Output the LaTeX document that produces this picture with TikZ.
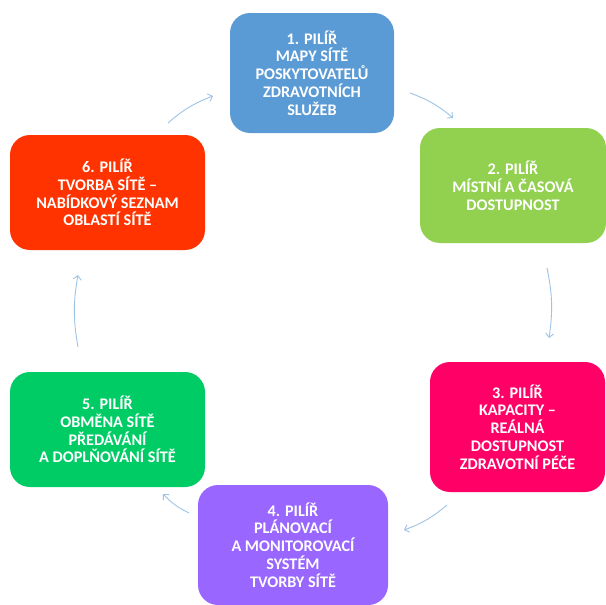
\documentclass[tikz,border=0pt]{standalone}
\usepackage{fontspec}
\setmainfont{Carlito}
\usetikzlibrary{arrows.meta}
\definecolor{pilirA}{HTML}{5B9BD5}
\definecolor{pilirB}{HTML}{92D050}
\definecolor{pilirC}{HTML}{FF0066}
\definecolor{pilirD}{HTML}{9966FF}
\definecolor{pilirE}{HTML}{00CC66}
\definecolor{pilirF}{HTML}{FF3300}
\definecolor{sipkaclr}{HTML}{9DC3E6}
\tikzset{pilir/.style={rounded corners=20pt,text=white,align=center,inner sep=0pt,
  font=\bfseries\fontsize{16.2}{17.8}\selectfont},
  sipka/.style={draw=sipkaclr,line width=0.9pt,-{Straight Barb[length=4pt,width=8pt]}}}

\begin{document}
\begin{tikzpicture}[x=1pt,y=1pt]
\useasboundingbox (0,0) rectangle (606,-605);

\node[pilir,fill=pilirA,minimum width=164pt,minimum height=120pt] (p1) at (312,-73)
 {1. PILÍŘ\\MAPY SÍTĚ\\POSKYTOVATELŮ\\ZDRAVOTNÍCH\\SLUŽEB};
\node[pilir,fill=pilirB,minimum width=186pt,minimum height=115pt] (p2) at (513,-185.5)
 {2. PILÍŘ\\MÍSTNÍ A ČASOVÁ\\DOSTUPNOST};
\node[pilir,fill=pilirC,minimum width=175pt,minimum height=130pt] (p3) at (517.5,-427)
 {3. PILÍŘ\\KAPACITY –\\REÁLNÁ\\DOSTUPNOST\\ZDRAVOTNÍ PÉČE};
\node[pilir,fill=pilirD,minimum width=190pt,minimum height=120pt] (p4) at (293,-545)
 {4. PILÍŘ\\PLÁNOVACÍ\\A MONITOROVACÍ\\SYSTÉM\\TVORBY SÍTĚ};
\node[pilir,fill=pilirE,minimum width=195pt,minimum height=115pt] (p5) at (107.5,-429.5)
 {5. PILÍŘ\\OBMĚNA SÍTĚ\\PŘEDÁVÁNÍ\\A DOPLŇOVÁNÍ SÍTĚ};
\node[pilir,fill=pilirF,minimum width=195pt,minimum height=115pt] (p6) at (107.5,-192.5)
 {6. PILÍŘ\\TVORBA SÍTĚ –\\NABÍDKOVÝ SEZNAM\\OBLASTÍ SÍTĚ};

% sipky mezi pilíři
\coordinate (s61) at (168,-123); \coordinate (e61) at (213,-96);
\coordinate (s12) at (410,-93);  \coordinate (e12) at (453,-118);
\coordinate (s23) at (547,-268); \coordinate (e23) at (549,-338);
\coordinate (s34) at (447,-505); \coordinate (e34) at (404,-530);
\coordinate (s45) at (189,-513); \coordinate (e45) at (163,-494);
\coordinate (s56) at (78,-347);  \coordinate (e56) at (78,-275);

\draw[sipka] (s61) to[bend left=10] (e61);
\draw[sipka] (s12) to[bend left=10] (e12);
\draw[sipka] (s23) to[bend left=10] (e23);
\draw[sipka] (s34) to[bend left=10] (e34);
\draw[sipka] (s45) to[bend left=10] (e45);
\draw[sipka] (s56) to[bend left=10] (e56);
\end{tikzpicture}
\end{document}
